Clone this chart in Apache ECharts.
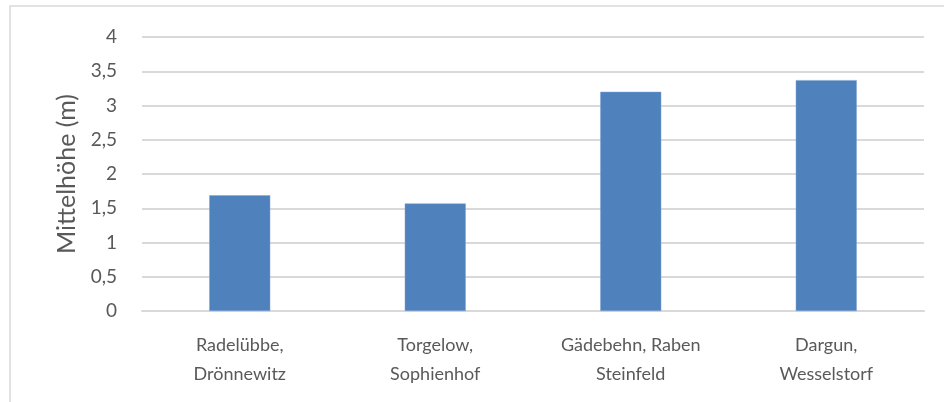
<!DOCTYPE html>
<html>
<head>
<meta charset="utf-8">
<script src="https://cdn.jsdelivr.net/npm/echarts@6/dist/echarts.min.js"></script>
<style>
  html, body { margin: 0; padding: 0; background: #fff; }
  #chart { width: 944px; height: 402px; }
</style>
</head>
<body>
<div id="chart"></div>
<script>
// Standorte (x-Achse)
var categories = ['Radelübbe,\nDrönnewitz', 'Torgelow,\nSophienhof', 'Gädebehn, Raben\nSteinfeld', 'Dargun,\nWesselstorf'];
// Mittelhöhe in m
var values = [1.69, 1.57, 3.2, 3.37];
var yTicks = [0, 0.5, 1, 1.5, 2, 2.5, 3, 3.5, 4];

var font = 'Lato, "Noto Sans", sans-serif';
var textColor = '#595959';

var myChart = echarts.init(document.getElementById('chart'));
myChart.setOption({
  animation: false,
  backgroundColor: '#fff',
  // Rahmen oben und links
  graphic: [{
    type: 'rect',
    shape: { x: 10, y: 6, width: 960, height: 420 },
    style: { fill: 'none', stroke: '#d9d9d9', lineWidth: 1.5 },
    silent: true
  }],
  grid: { left: 142, right: 20, top: 37, bottom: 91 },
  xAxis: {
    type: 'category',
    data: categories,
    axisLine: { lineStyle: { color: '#d9d9d9', width: 2 } },
    axisTick: { show: false },
    axisLabel: {
      color: textColor, fontFamily: font, fontSize: 18,
      lineHeight: 29, margin: 20, interval: 0
    }
  },
  yAxis: {
    type: 'value',
    min: yTicks[0],
    max: yTicks[yTicks.length - 1],
    interval: 0.5,
    name: 'Mittelhöhe (m)',
    nameLocation: 'middle',
    nameRotate: 90,
    nameGap: 63,
    nameTextStyle: { color: textColor, fontFamily: font, fontSize: 25 },
    axisLine: { show: false },
    axisTick: { show: false },
    splitLine: { lineStyle: { color: '#d9d9d9', width: 2 } },
    axisLabel: {
      color: textColor, fontFamily: font, fontSize: 19, margin: 25,
      formatter: function(v) { return String(v).replace('.', ','); }
    }
  },
  series: [{
    type: 'bar',
    data: values,
    barWidth: 61,
    itemStyle: { color: '#4f81bd', borderColor: '#7fa3d1', borderWidth: 0.5 }
  }]
});
</script>
</body>
</html>
